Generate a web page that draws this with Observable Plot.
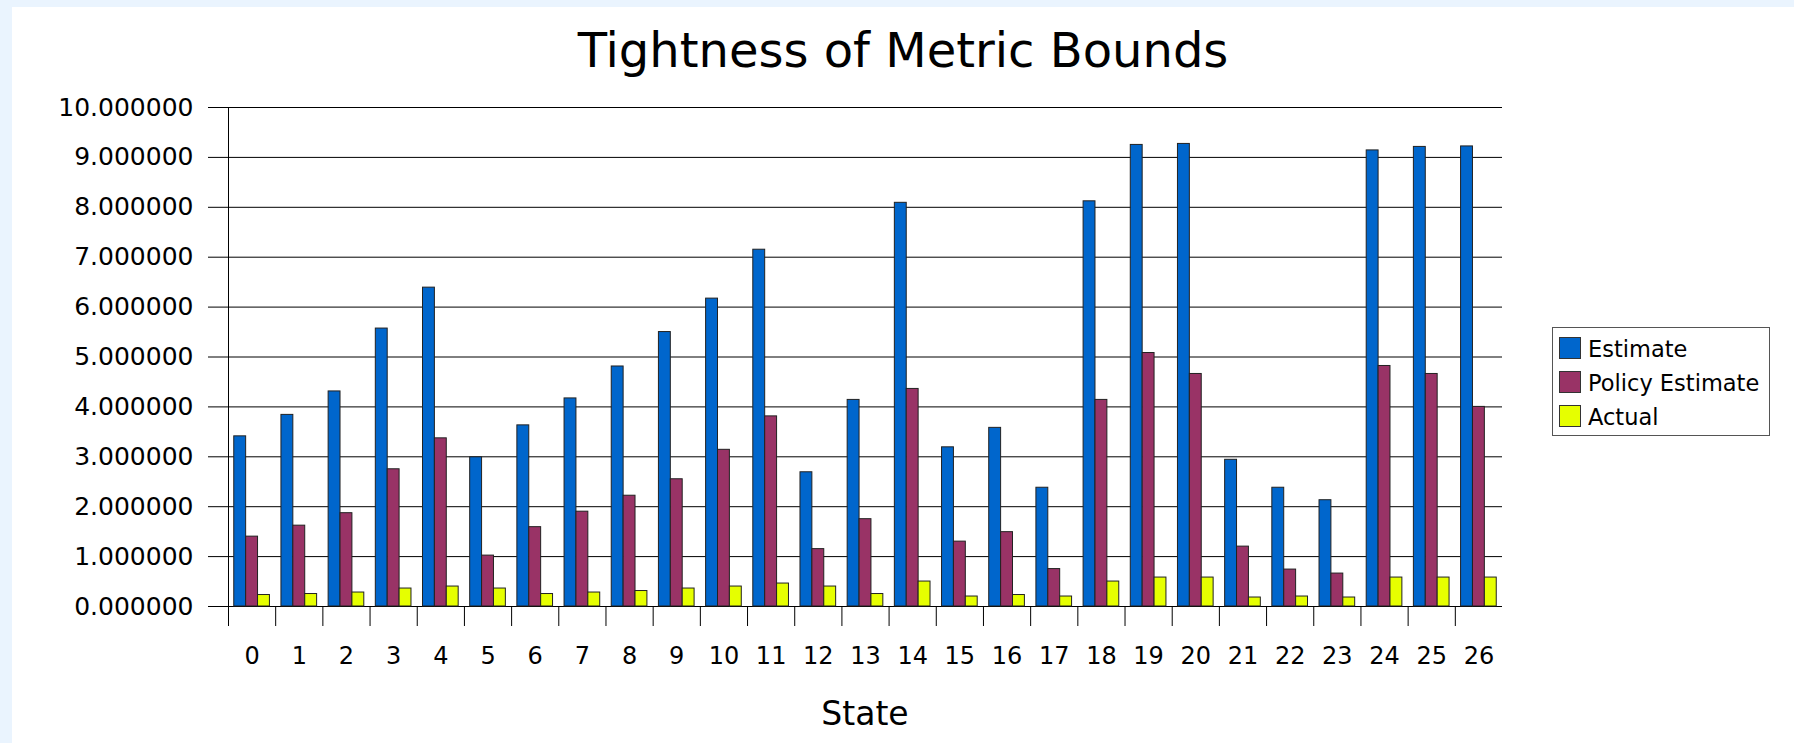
<!DOCTYPE html>
<html>
<head>
<meta charset="utf-8">
<script src="https://cdn.jsdelivr.net/npm/d3@7"></script>
<script src="https://cdn.jsdelivr.net/npm/@observablehq/plot@0.6"></script>
<style>
  html, body { margin: 0; padding: 0; }
  body { width: 1794px; height: 743px; background: #eaf4fe; position: relative; overflow: hidden; font-family: "DejaVu Sans", sans-serif; color: #000; }
  #panel { position: absolute; left: 12px; top: 7px; right: 0; bottom: 0; background: #fff; }
  #chart { position: absolute; left: 0; top: 0; }
  #title { position: absolute; left: 12px; right: 0; top: 26px; text-align: center; font-size: 48px; line-height: 48px; white-space: nowrap; }
  #xlabel { position: absolute; left: 228px; width: 1274px; top: 697px; text-align: center; font-size: 33px; line-height: 33px; }
  #legend { position: absolute; left: 1552px; top: 327px; width: 216px; height: 107px; border: 1px solid #555; background: #fff; }
  .item { position: absolute; left: 6px; height: 22px; font-size: 22.5px; line-height: 22px; white-space: nowrap; }
  .sw { position: absolute; left: 0; top: 0; width: 20px; height: 20px; border: 1px solid #333; }
  .lab { position: absolute; left: 29px; top: 1px; }
  svg g[aria-label^="x-axis"] { font-size: 24px; }
</style>
</head>
<body>
<div id="panel"></div>
<div id="chart"></div>
<div id="title">Tightness of Metric Bounds</div>
<div id="xlabel">State</div>
<div id="legend"></div>
<script>
// ---- data ----
const states = [0,1,2,3,4,5,6,7,8,9,10,11,12,13,14,15,16,17,18,19,20,21,22,23,24,25,26];
const seriesNames = ["Estimate", "Policy Estimate", "Actual"];
const seriesColors = ["#0066cc", "#993366", "#e6ff00"];
const estimate = [3.41, 3.84, 4.31, 5.57, 6.39, 2.99, 3.63, 4.17, 4.81, 5.50, 6.17, 7.15, 2.69, 4.14, 8.09, 3.19, 3.58, 2.38, 8.12, 9.25, 9.27, 2.94, 2.38, 2.13, 9.14, 9.21, 9.22];
const policyEstimate = [1.40, 1.62, 1.87, 2.75, 3.37, 1.02, 1.59, 1.90, 2.22, 2.55, 3.14, 3.81, 1.15, 1.75, 4.36, 1.30, 1.49, 0.75, 4.14, 5.08, 4.66, 1.20, 0.74, 0.66, 4.82, 4.66, 4.00];
const actual = [0.23, 0.25, 0.28, 0.36, 0.40, 0.36, 0.25, 0.28, 0.31, 0.36, 0.40, 0.46, 0.40, 0.25, 0.50, 0.20, 0.23, 0.20, 0.50, 0.58, 0.58, 0.18, 0.20, 0.18, 0.58, 0.58, 0.58];
const yTicks = [0, 1, 2, 3, 4, 5, 6, 7, 8, 9, 10];

// ---- layout helpers ----
const seriesValues = [estimate, policyEstimate, actual];
const BAR_W = 0.252;                    // fraction of a category slot per bar
const GROUP_PAD = (1 - 3 * BAR_W) / 2;  // space at each side of the group
const rows = states.flatMap((s, i) =>
  seriesNames.map((name, k) => ({state: s, series: name, k, value: seriesValues[k][i]})));
const boundaries = states.map(s => s - 0.5);

const chart = Plot.plot({
  width: 1794,
  height: 743,
  marginLeft: 228,
  marginRight: 292,
  marginTop: 107,
  marginBottom: 137,
  style: {background: "transparent", fontFamily: "DejaVu Sans", fontSize: "25px", color: "#000", overflow: "visible"},
  x: {domain: [-0.5, 26.5], ticks: states, tickFormat: d => String(d), tickSize: 0, tickPadding: 40, label: null},
  y: {domain: [0, 10], ticks: yTicks, tickFormat: d3.format(".6f"), tickSize: 20, tickPadding: 15, line: true, label: null},
  color: {domain: seriesNames, range: seriesColors},
  marks: [
    Plot.ruleY(yTicks, {stroke: "#000", strokeWidth: 1}),
    Plot.rectY(rows, {
      x1: d => d.state - 0.5 + GROUP_PAD + d.k * BAR_W,
      x2: d => d.state - 0.5 + GROUP_PAD + (d.k + 1) * BAR_W,
      y1: 0,
      y2: "value",
      fill: "series",
      stroke: "#222",
      strokeWidth: 1
    }),
    Plot.ruleX(boundaries, {x: d => d, y1: 0, y2: 0, insetBottom: -20, stroke: "#000", strokeWidth: 1})
  ]
});
document.getElementById("chart").appendChild(chart);

// ---- legend ----
const legend = document.getElementById("legend");
seriesNames.forEach((name, k) => {
  const item = document.createElement("div");
  item.className = "item";
  item.style.top = (9 + k * 34) + "px";
  const sw = document.createElement("div");
  sw.className = "sw";
  sw.style.background = seriesColors[k];
  const lab = document.createElement("div");
  lab.className = "lab";
  lab.textContent = name;
  item.appendChild(sw);
  item.appendChild(lab);
  legend.appendChild(item);
});
</script>
</body>
</html>
